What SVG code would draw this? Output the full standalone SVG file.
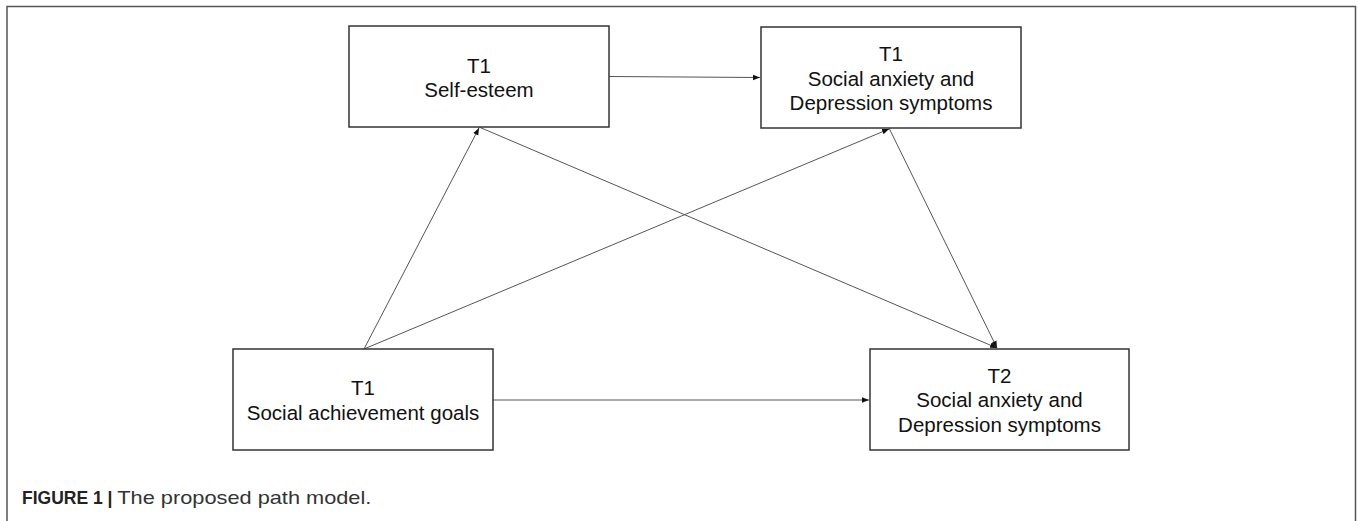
<svg xmlns="http://www.w3.org/2000/svg" width="1358" height="521" viewBox="0 0 1358 521">
<style>
.box{fill:#fff;stroke:#333;stroke-width:1.5}
.lbl{font-family:"Liberation Sans",Arial,sans-serif;font-size:20.5px;fill:#111;text-anchor:middle}
.edge{stroke:#555;stroke-width:1;fill:none;marker-end:url(#ah)}
.cap{font-family:"Liberation Sans",Arial,sans-serif;font-size:17.5px;fill:#222}
</style>
<defs>
<marker id="ah" viewBox="0 0 10 10" refX="10" refY="5" markerWidth="7" markerHeight="7" markerUnits="userSpaceOnUse" orient="auto">
<path d="M0,1 L10,5 L0,9 Z" fill="#111"/>
</marker>
</defs>
<rect x="0" y="0" width="1358" height="521" fill="#fff"/>
<path d="M7,530 L7,6.5 L1355.5,6.5 L1355.5,530" fill="none" stroke="#555" stroke-width="1.5"/>
<g id="connectors">
<line class="edge" x1="609" y1="76.5" x2="760" y2="77.5"/>
<line class="edge" x1="493" y1="400" x2="869" y2="400"/>
<line class="edge" x1="364" y1="349" x2="479" y2="128"/>
<line class="edge" x1="364" y1="349" x2="889" y2="129"/>
<line class="edge" x1="479" y1="127" x2="997" y2="348"/>
<line class="edge" x1="889" y1="128" x2="997" y2="348"/>
</g>
<g id="n1">
<rect class="box" x="349" y="26" width="260" height="101"/>
<text class="lbl" x="479" y="73">T1</text>
<text class="lbl" x="479" y="97">Self-esteem</text>
</g>
<g id="n2">
<rect class="box" x="761" y="27" width="260" height="101"/>
<text class="lbl" x="891" y="61">T1</text>
<text class="lbl" x="891" y="86">Social anxiety and</text>
<text class="lbl" x="891" y="110">Depression symptoms</text>
</g>
<g id="n3">
<rect class="box" x="233" y="349" width="260" height="101"/>
<text class="lbl" x="363" y="395">T1</text>
<text class="lbl" x="363" y="420">Social achievement goals</text>
</g>
<g id="n4">
<rect class="box" x="870" y="349" width="259" height="101"/>
<text class="lbl" x="999.5" y="383">T2</text>
<text class="lbl" x="999.5" y="407">Social anxiety and</text>
<text class="lbl" x="999.5" y="432">Depression symptoms</text>
</g>
<text class="cap" x="22" y="504"><tspan font-weight="bold">FIGURE 1 | </tspan><tspan fill="#333" font-size="19" textLength="254" lengthAdjust="spacingAndGlyphs">The proposed path model.</tspan></text>
</svg>
